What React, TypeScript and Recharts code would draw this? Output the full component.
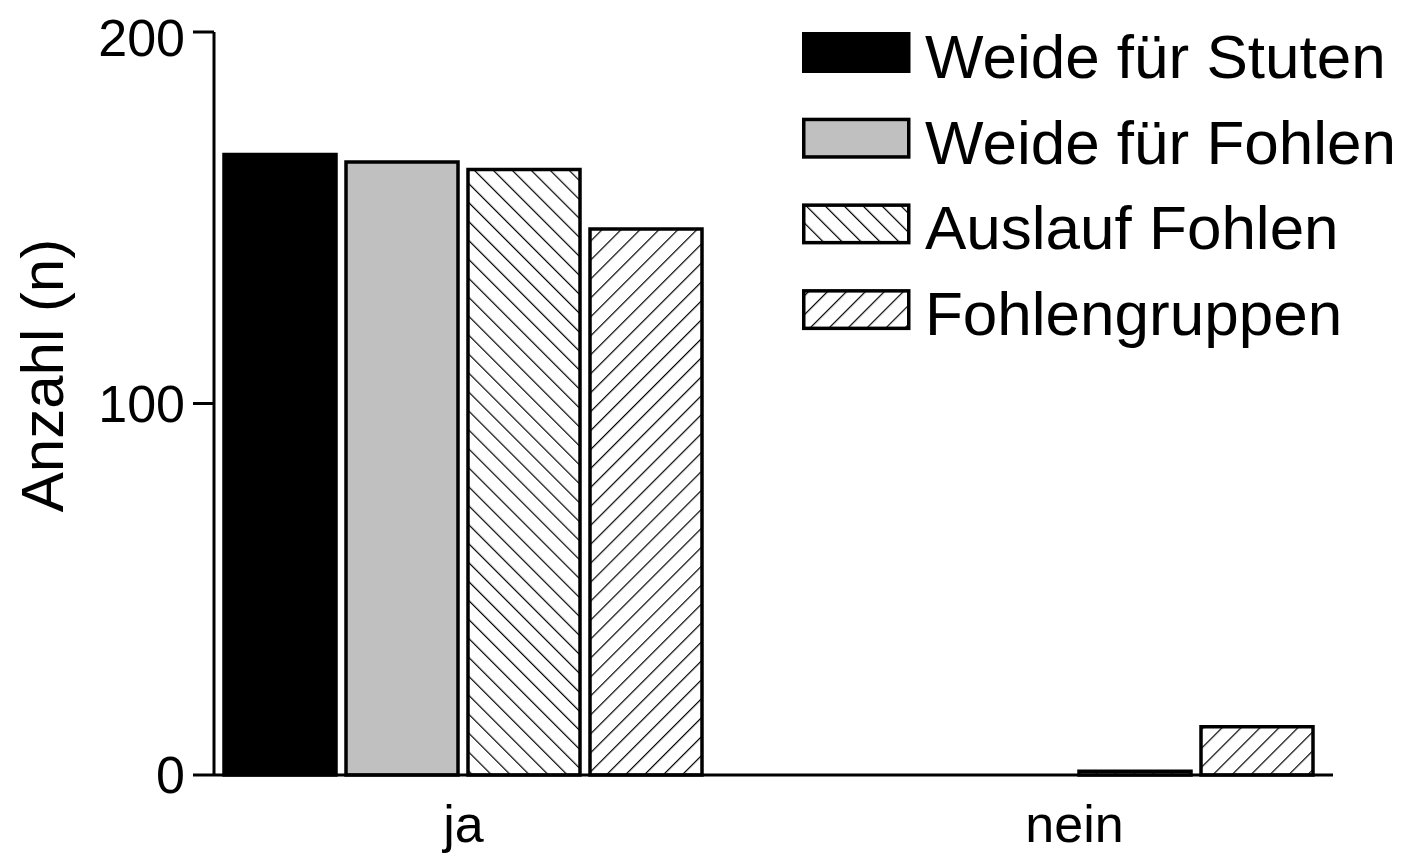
import React from 'react';
import { BarChart, Bar, XAxis, YAxis, Legend } from 'recharts';

const categories = ['ja', 'nein'];
const weideStuten = [167, 0];
const weideFohlen = [165, 0];
const auslaufFohlen = [163, 1];
const fohlengruppen = [147, 13];
const yTicks = [0, 100, 200];
const seriesNames = ['Weide für Stuten', 'Weide für Fohlen', 'Auslauf Fohlen', 'Fohlengruppen'];
const yLabel = 'Anzahl (n)';

const data = categories.map((c, i) => ({
  cat: c,
  s1: weideStuten[i],
  s2: weideFohlen[i],
  s3: auslaufFohlen[i],
  s4: fohlengruppen[i],
}));

const FONT = '"Liberation Sans", Arial, sans-serif';
const fills = ['#000000', '#c0c0c0', 'url(#hatchBack)', 'url(#hatchFwd)'];
const keys = ['s1', 's2', 's3', 's4'];

const YLabel = (props: any) => {
  const vb = props.viewBox || {};
  const cx = 55;
  const cy = vb.y + vb.height / 2 - 28;
  return (
    <text
      x={cx}
      y={cy}
      transform={`rotate(-90, ${cx}, ${cy})`}
      textAnchor="middle"
      fontFamily={FONT}
      fontSize={60}
      fill="#000"
    >
      {yLabel}
    </text>
  );
};

const LegendContent = () => (
  <svg width={620} height={350} style={{ overflow: 'visible', display: 'block' }}>
    {seriesNames.map((n, i) => (
      <g key={n}>
        <rect
          x={1.75}
          y={1.75 + i * 85.7}
          width={105}
          height={37.5}
          fill={fills[i]}
          stroke="#000"
          strokeWidth={3.5}
        />
        <text x={123} y={46 + i * 85.7} fontFamily={FONT} fontSize={62} fill="#000">
          {n}
        </text>
      </g>
    ))}
  </svg>
);

export default function App() {
  return (
    <BarChart
      width={1398}
      height={849}
      data={data}
      margin={{ top: 24, right: 73, left: 0, bottom: 8 }}
      barCategoryGap={66}
      barGap={10}
    >
      <defs>
        <pattern id="hatchBack" patternUnits="userSpaceOnUse" width={13.4} height={20} patternTransform="rotate(-45)">
          <line x1={0} y1={0} x2={0} y2={20} stroke="#000" strokeWidth={2.4} />
        </pattern>
        <pattern id="hatchFwd" patternUnits="userSpaceOnUse" width={13.4} height={20} patternTransform="rotate(45)">
          <line x1={0} y1={0} x2={0} y2={20} stroke="#000" strokeWidth={2.4} />
        </pattern>
      </defs>
      <XAxis
        dataKey="cat"
        padding={{ left: -56, right: -47 }}
        tickLine={false}
        axisLine={{ stroke: '#000', strokeWidth: 3 }}
        tickSize={0}
        tickMargin={30}
        height={74}
        tick={{ fontSize: 52, fill: '#000', fontFamily: FONT }}
      />
      <YAxis
        domain={[0, 200]}
        ticks={yTicks}
        width={206}
        tickSize={21}
        tickMargin={8}
        axisLine={{ stroke: '#000', strokeWidth: 3 }}
        tickLine={{ stroke: '#000', strokeWidth: 3 }}
        tick={{ fontSize: 52, fill: '#000', fontFamily: FONT }}
        label={<YLabel />}
      />
      <Legend
        content={<LegendContent />}
        wrapperStyle={{ position: 'absolute', left: 794, top: 24, width: 0, height: 0, overflow: 'visible' }}
      />
      {keys.map((k, i) => (
        <Bar
          key={k}
          dataKey={k}
          name={seriesNames[i]}
          fill={fills[i]}
          stroke="#000"
          strokeWidth={3.5}
          isAnimationActive={false}
        />
      ))}
    </BarChart>
  );
}
